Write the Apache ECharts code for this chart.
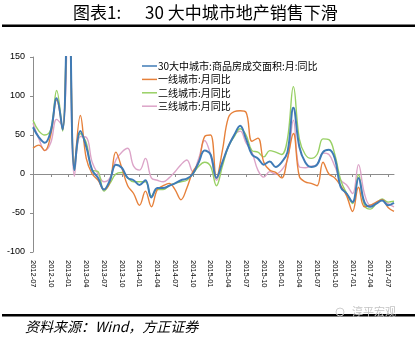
<!DOCTYPE html>
<html>
<head>
<meta charset="utf-8">
<script src="https://cdn.jsdelivr.net/npm/echarts@6/dist/echarts.min.js"></script>
<style>
  html, body { margin: 0; padding: 0; background: #fff; }
  #chart { width: 417px; height: 337px; }
</style>
</head>
<body>
<div id="chart"></div>
<script>
// Monthly categories, 2012-07 .. 2017-08
const months = [
  '2012-07','2012-08','2012-09','2012-10','2012-11','2012-12',
  '2013-01','2013-02','2013-03','2013-04','2013-05','2013-06','2013-07','2013-08','2013-09','2013-10','2013-11','2013-12',
  '2014-01','2014-02','2014-03','2014-04','2014-05','2014-06','2014-07','2014-08','2014-09','2014-10','2014-11','2014-12',
  '2015-01','2015-02','2015-03','2015-04','2015-05','2015-06','2015-07','2015-08','2015-09','2015-10','2015-11','2015-12',
  '2016-01','2016-02','2016-03','2016-04','2016-05','2016-06','2016-07','2016-08','2016-09','2016-10','2016-11','2016-12',
  '2017-01','2017-02','2017-03','2017-04','2017-05','2017-06','2017-07','2017-08'
];

// Year-on-year growth of transaction area (%)
const city30 = [60, 47, 40, 55, 97, 57, 290, 5, 55, 35, 5, -5, -20, -8, 12, 8, -5, -8, -14, -8,
  -30, -18, -18, -15, -12, -8, -6, 0, 15, 30, 25, -5, 15, 35, 50, 62, 45, 25, 20, 12,
  16, 9, 15, 28, 85, 35, 15, 9, 12, 28, 31, 20, -17, -25, -36, -5, -36, -42, -38, -34, -40, -37];
const tier1 = [33, 37, 30, 50, 95, 57, 300, 8, 75, 20, 0, -8, -20, -10, 28, 8, -15, -25, -40, -22,
  -42, -20, -15, -12, -20, -33, -18, 3, 15, 48, 50, -5, 30, 72, 80, 81, 79, 42, 46, 15,
  5, 2, -5, 20, 52, -3, -10, -12, -15, 15, 0, -5, -15, -28, -48, -17, -42, -40, -36, -33, -43, -48];
const tier2 = [69, 55, 50, 57, 107, 55, 300, 5, 52, 40, 5, 3, -22, -12, 0, 2, -5, -10, -10, -10,
  -28, -20, -20, -15, -12, -10, -8, 0, 10, 15, 10, -15, 10, 35, 48, 58, 50, 30, 28, 22,
  30, 28, 25, 45, 112, 45, 25, 20, 25, 45, 44, 25, -8, -25, -38, -1, -40, -45, -38, -32, -36, -35];
const tier3 = [65, 45, 30, 40, 70, 62, 230, -3, 48, 47, 15, 0, -10, -5, 18, 28, 33, 10, 5, 20,
  -5, -8, -10, -5, 3, 12, 18, 3, 20, 43, 25, -8, 15, 35, 50, 55, 40, 28, 5, -4,
  3, 0, 5, 18, 69, 9, 8, 10, 12, 27, 25, 10, -8, -14, -25, 12, -25, -40, -38, -33, -38, -42];

const seriesNames = ['30大中城市:商品房成交面积:月:同比', '一线城市:月同比', '二线城市:月同比', '三线城市:月同比'];
const seriesData = [city30, tier1, tier2, tier3];
const seriesColors = ['#3f7bb6', '#e6803a', '#98d064', '#dca4c8'];
const seriesWidths = [2, 1.4, 1.4, 1.4];

const yTicks = { min: -100, max: 150, step: 50 };

const chart = echarts.init(document.getElementById('chart'), null, { renderer: 'canvas' });

const option = {
  backgroundColor: '#ffffff',
  animation: false,
  textStyle: { fontFamily: 'Liberation Sans, Arial, sans-serif' },
  grid: { left: 33, top: 57, width: 361, height: 195, containLabel: false },
  legend: {
    orient: 'vertical',
    left: 137,
    top: 56,
    icon: 'rect',
    itemWidth: 15,
    itemHeight: 1.5,
    itemGap: 3.4,
    data: seriesNames,
    textStyle: { fontFamily: 'Noto Sans CJK SC', fontSize: 10, lineHeight: 10, color: '#000', padding: [0, 0, 0, -4] }
  },
  xAxis: [
    {
      type: 'category',
      data: months,
      boundaryGap: false,
      axisLine: { show: false, onZero: false },
      axisTick: { show: false },
      splitLine: { show: false },
      axisLabel: {
        interval: 2,
        rotate: -90,
        margin: 8,
        fontSize: 7.5,
        color: '#000'
      }
    },
    {
      type: 'category',
      data: months,
      boundaryGap: false,
      position: 'bottom',
      axisLine: { show: true, onZero: true, lineStyle: { color: '#8c8c8c', width: 1 } },
      axisTick: { show: true, interval: 2, length: 3, lineStyle: { color: '#8c8c8c' } },
      axisLabel: { show: false },
      splitLine: { show: false }
    }
  ],
  yAxis: {
    type: 'value',
    min: yTicks.min,
    max: yTicks.max,
    interval: yTicks.step,
    axisLine: { show: true, lineStyle: { color: '#8c8c8c', width: 1 } },
    axisTick: { show: true, length: 3, lineStyle: { color: '#8c8c8c' } },
    splitLine: { show: false },
    axisLabel: { fontSize: 9, color: '#000', margin: 8 }
  },
  series: seriesData.map((d, k) => ({
    name: seriesNames[k],
    type: 'line',
    data: d,
    xAxisIndex: 0,
    smooth: 0.4,
    symbol: 'none',
    clip: true,
    z: 4 - k,
    lineStyle: { color: seriesColors[k], width: seriesWidths[k] },
    itemStyle: { color: seriesColors[k] }
  })),
  graphic: [
    {
      type: 'text', left: 73, top: 4,
      style: { text: '图表1:', font: '17px "Noto Sans CJK SC"', fill: '#000' }
    },
    {
      type: 'text', left: 145, top: 4,
      style: { text: '30 大中城市地产销售下滑', font: '17px "Noto Sans CJK SC"', fill: '#000' }
    },
    {
      type: 'rect', shape: { x: 2, y: 24.5, width: 413, height: 2.5 },
      style: { fill: '#000' }
    },
    {
      type: 'rect', shape: { x: 2, y: 314, width: 413, height: 2.5 },
      style: { fill: '#000' }
    },
    {
      type: 'text', left: 25, top: 320,
      style: { text: '资料来源：Wind，方正证券', font: 'italic 14px "Noto Sans CJK SC"', fill: '#000' }
    },
    {
      type: 'circle', shape: { cx: 340, cy: 312, r: 4 },
      style: { fill: 'none', stroke: '#cfcfcf', lineWidth: 1 }
    },
    {
      type: 'text', left: 352, top: 306,
      style: { text: '淳平宏观', font: '11px "Noto Sans CJK SC"', fill: '#c4c4c4' }
    }
  ]
};

chart.setOption(option);
</script>
</body>
</html>
